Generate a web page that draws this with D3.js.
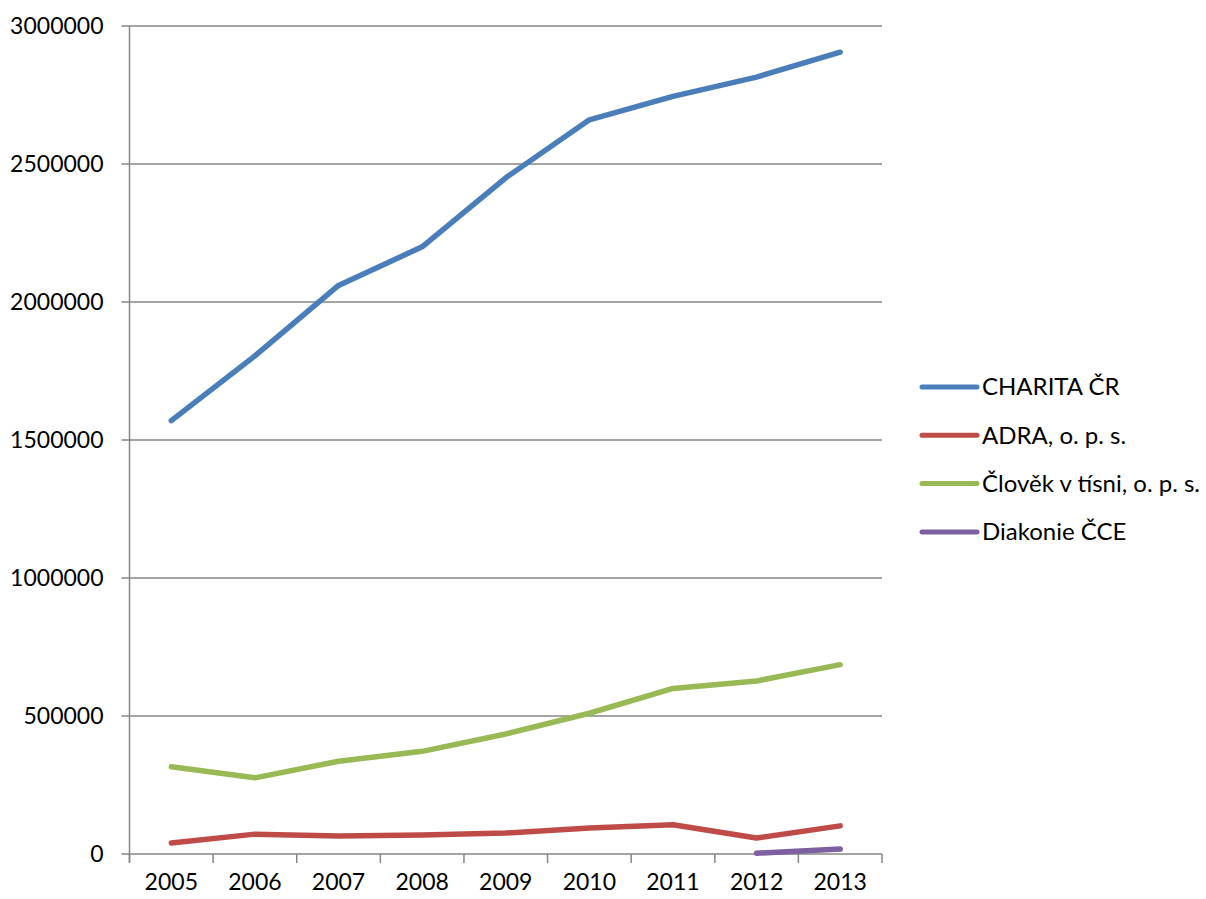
<!DOCTYPE html>
<html>
<head>
<meta charset="utf-8">
<script src="https://cdn.jsdelivr.net/npm/d3@7"></script>
<style>
  body { margin: 0; background: #fff; }
  svg text { font-family: Lato, "Open Sans", sans-serif; fill: #000; }
</style>
</head>
<body>
<div id="chart"></div>
<script>
// data
const years = ['2005', '2006', '2007', '2008', '2009', '2010', '2011', '2012', '2013'];
const charita = [1570000, 1805000, 2060000, 2200000, 2450000, 2660000, 2745000, 2815000, 2905000];
const adra = [40000, 72000, 65000, 69000, 76000, 94000, 106000, 58000, 102000];
const clovek = [316000, 276000, 336000, 372000, 435000, 510000, 600000, 627000, 686000];
const diakonie = [null, null, null, null, null, null, null, 3000, 18000];
const seriesNames = ['CHARITA ČR', 'ADRA, o. p. s.', 'Člověk v tísni, o. p. s.', 'Diakonie ČCE'];
const seriesColors = ['#4A7EBB', '#BE4B48', '#98B954', '#7D60A0'];
const yTicks = [0, 500000, 1000000, 1500000, 2000000, 2500000, 3000000];

const series = [charita, adra, clovek, diakonie].map((values, i) => ({
    name: seriesNames[i],
    color: seriesColors[i],
    values: values
}));

const svgWidth = 1206;
const svgHeight = 899;
const margin = { top: 26, left: 129.5, right: 324, bottom: 45 };
const width = svgWidth - margin.left - margin.right;
const height = svgHeight - margin.top - margin.bottom;

const svg = d3.select('#chart').append('svg')
    .attr('width', svgWidth)
    .attr('height', svgHeight);

const g = svg.append('g')
    .attr('transform', 'translate(' + margin.left + ',' + margin.top + ')');

const x = d3.scaleBand()
    .domain(years)
    .range([0, width]);
const y = d3.scaleLinear()
    .domain([0, 3000000])
    .range([height, 0]);

// horizontal gridlines
g.append('g')
    .selectAll('line')
    .data(yTicks)
    .enter()
    .append('line')
    .attr('x1', -8)
    .attr('x2', width)
    .attr('y1', d => y(d))
    .attr('y2', d => y(d))
    .attr('stroke', '#868686')
    .attr('stroke-width', 1.5);

// y axis
const yAxis = d3.axisLeft(y).tickValues(yTicks).tickSize(0).tickPadding(26).tickFormat(d3.format('d'));
const gY = g.append('g').call(yAxis);
gY.select('.domain').remove();
gY.selectAll('text').attr('font-size', 23).attr('dy', '0.32em');
g.append('line')
    .attr('x1', 0).attr('x2', 0)
    .attr('y1', 0).attr('y2', height + 9)
    .attr('stroke', '#868686')
    .attr('stroke-width', 1.5);

// x axis
const xAxis = d3.axisBottom(x).tickSize(0).tickPadding(20);
const gX = g.append('g')
    .attr('transform', 'translate(0,' + height + ')')
    .call(xAxis);
gX.select('.domain').remove();
gX.selectAll('text').attr('font-size', 23).attr('dy', '0.71em');
g.append('g')
    .selectAll('line')
    .data(years.concat(['end']))
    .enter()
    .append('line')
    .attr('x1', (d, i) => i < years.length ? x(d) : width)
    .attr('x2', (d, i) => i < years.length ? x(d) : width)
    .attr('y1', height)
    .attr('y2', height + 9)
    .attr('stroke', '#868686')
    .attr('stroke-width', 1.5);

// lines
const line = d3.line()
    .defined(d => d.v !== null)
    .x(d => x(d.year) + x.bandwidth() / 2)
    .y(d => y(d.v));

g.selectAll('.series')
    .data(series)
    .enter()
    .append('path')
    .attr('class', 'series')
    .attr('fill', 'none')
    .attr('stroke', d => d.color)
    .attr('stroke-width', 5.5)
    .attr('stroke-linecap', 'round')
    .attr('stroke-linejoin', 'round')
    .attr('d', d => line(d.values.map((v, i) => ({ year: years[i], v: v }))));

// legend
const legend = svg.append('g')
    .attr('transform', 'translate(922,387)');
const item = legend.selectAll('g')
    .data(series)
    .enter()
    .append('g')
    .attr('transform', (d, i) => 'translate(0,' + (i * 48.3) + ')');
item.append('line')
    .attr('x1', 0).attr('x2', 55)
    .attr('stroke', d => d.color)
    .attr('stroke-width', 5)
    .attr('stroke-linecap', 'round');
item.append('text')
    .attr('x', 60)
    .attr('dy', '0.35em')
    .attr('font-size', 24)
    .text(d => d.name);
</script>
</body>
</html>
